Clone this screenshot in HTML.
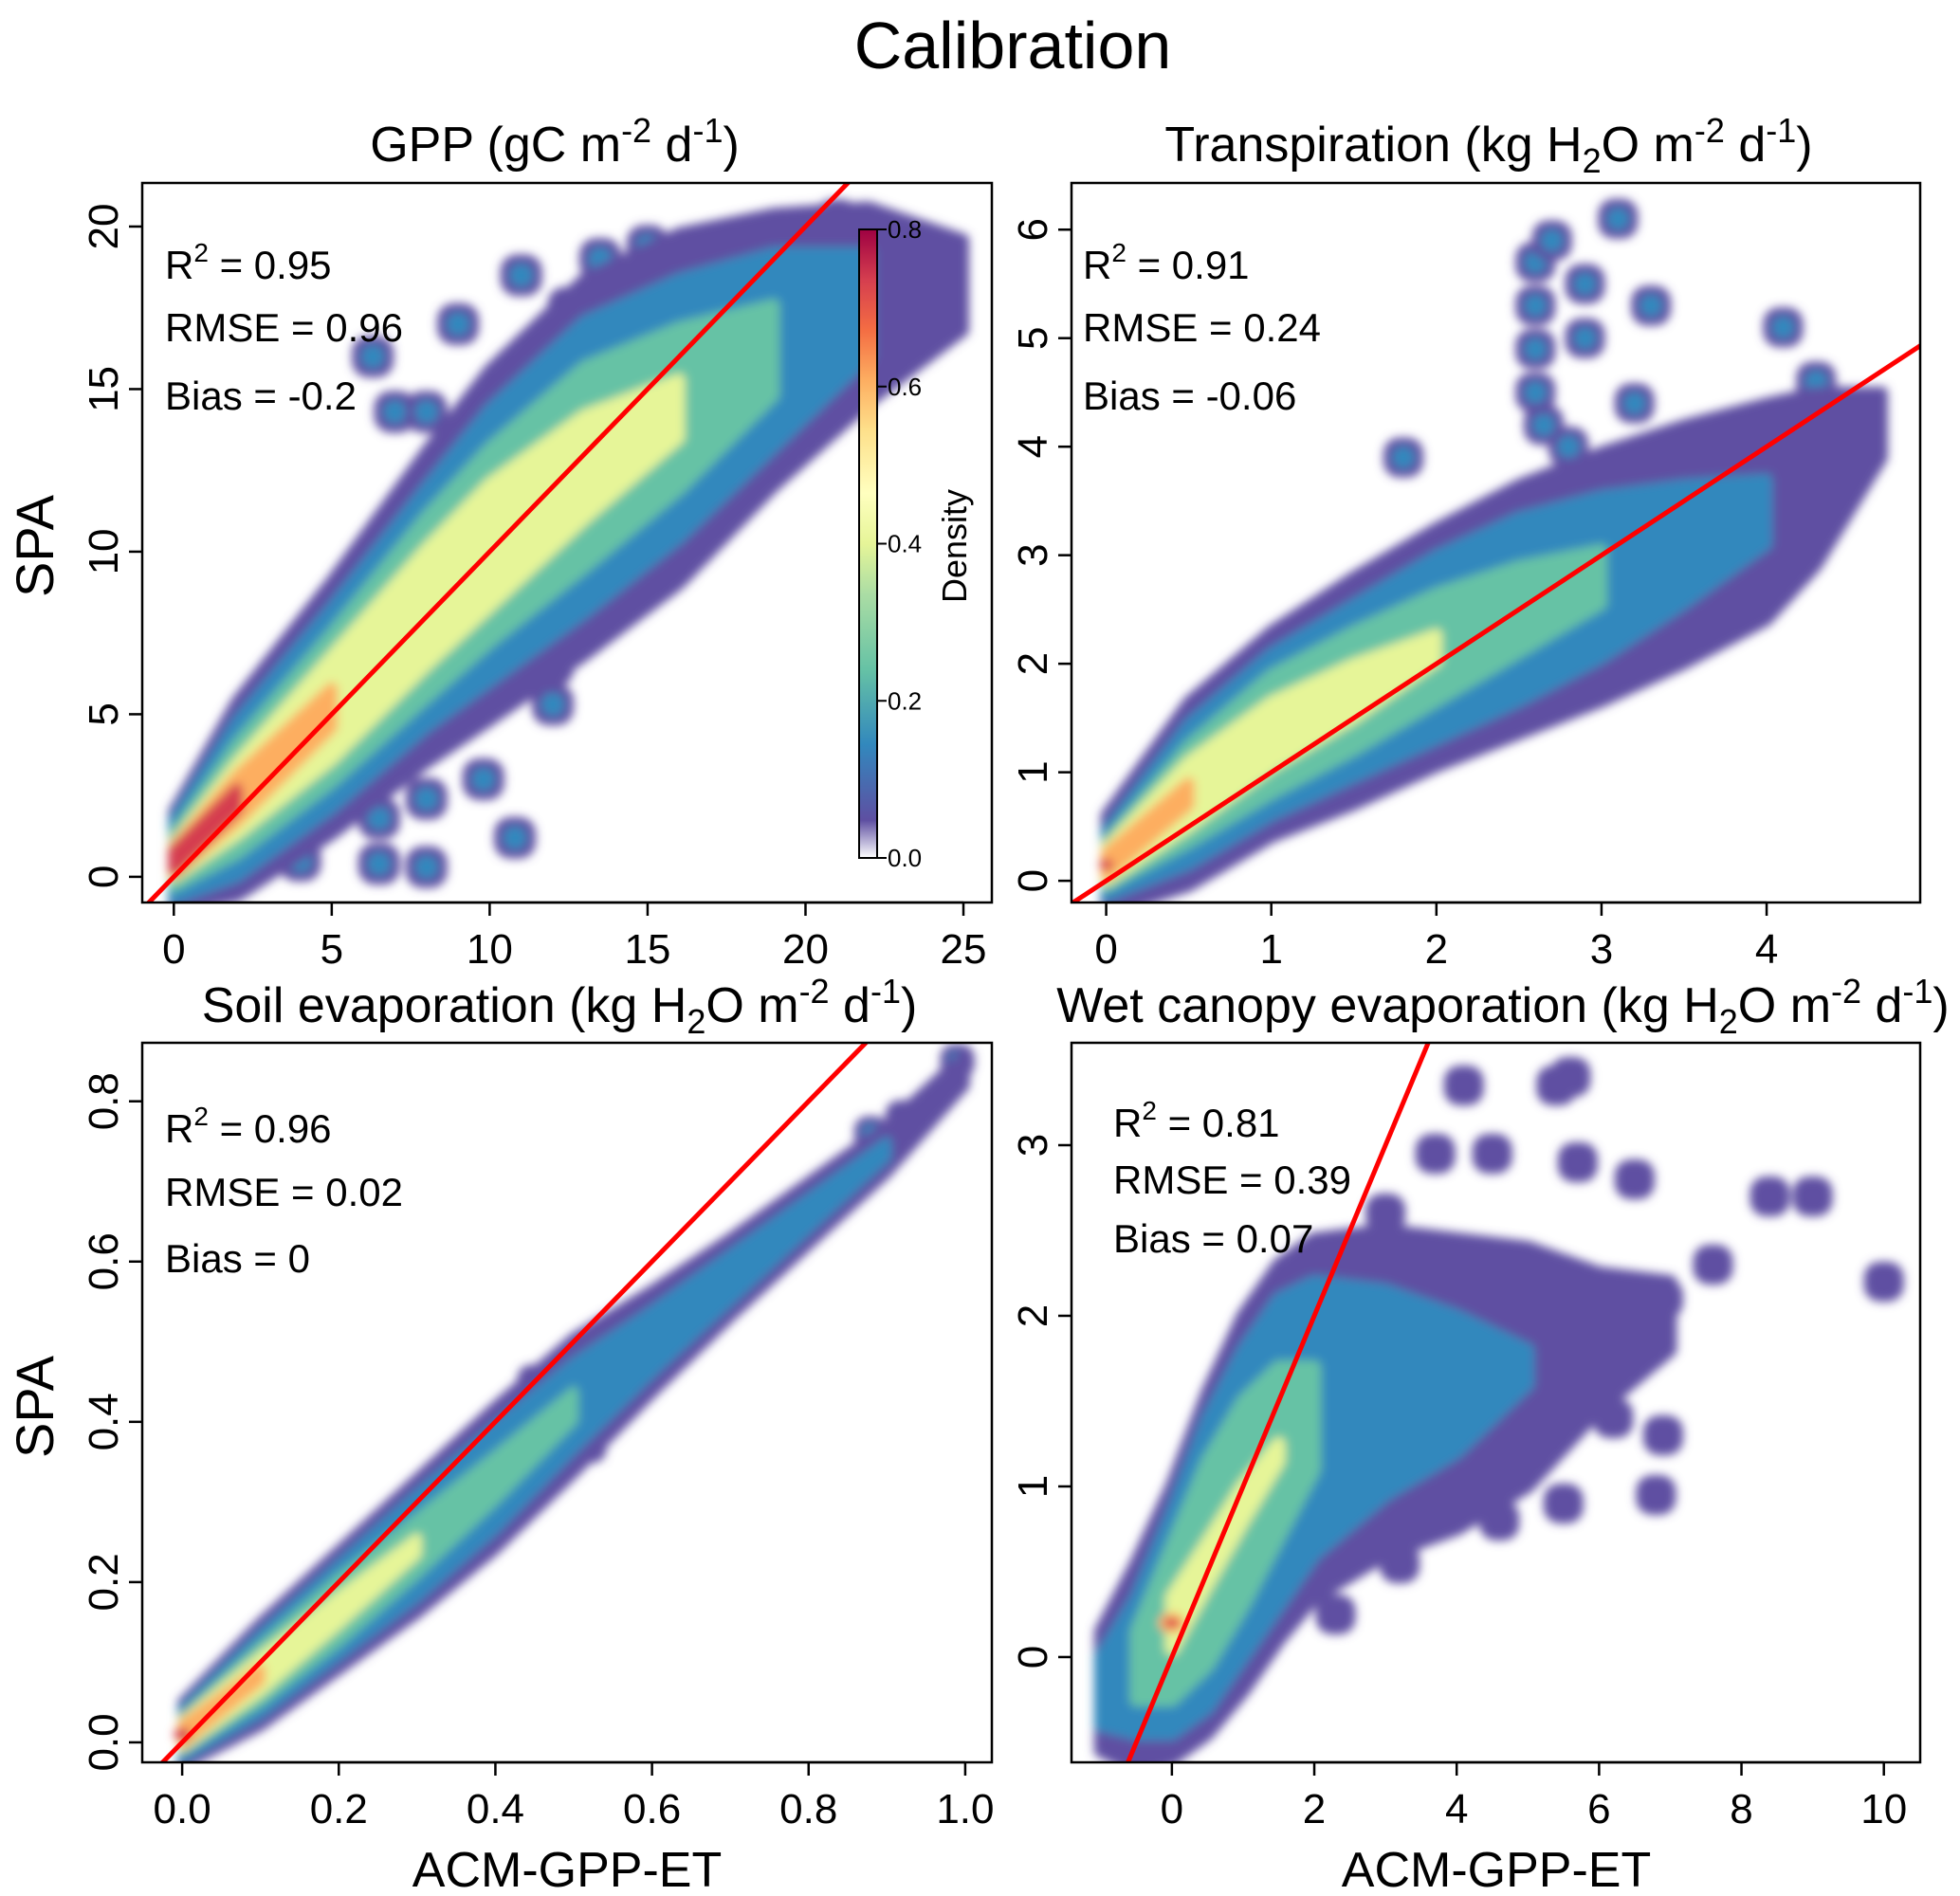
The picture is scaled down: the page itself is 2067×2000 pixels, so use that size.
<!DOCTYPE html>
<html><head><meta charset="utf-8"><title>Calibration</title>
<style>html,body{margin:0;background:#fff;overflow:hidden;width:2067px;height:2000px}svg{display:block;font-family:"Liberation Sans",Arial,sans-serif}</style></head>
<body>
<svg id="fig" width="2067" height="2000" viewBox="0 0 2067 2000" xmlns="http://www.w3.org/2000/svg">
<defs><filter id="blur" x="-5%" y="-5%" width="110%" height="110%"><feGaussianBlur stdDeviation="5"/></filter>
<linearGradient id="cbar" x1="0" y1="1" x2="0" y2="0">
<stop offset="0" stop-color="#ffffff"/><stop offset="0.06" stop-color="#5e4fa2"/><stop offset="0.18" stop-color="#3288bd"/><stop offset="0.3" stop-color="#66c2a5"/><stop offset="0.42" stop-color="#abdda4"/><stop offset="0.5" stop-color="#e6f598"/><stop offset="0.58" stop-color="#ffffbf"/><stop offset="0.68" stop-color="#fee08b"/><stop offset="0.76" stop-color="#fdae61"/><stop offset="0.84" stop-color="#f46d43"/><stop offset="0.92" stop-color="#d53e4f"/><stop offset="1" stop-color="#9e0142"/></linearGradient>
</defs>
<text x="1068" y="72" font-size="70" text-anchor="middle">Calibration</text>
</svg>
<script>
// ---------- data ----------
const levelColors = ["#5e4fa2","#3288bd","#66c2a5","#e6f598","#fdae61","#d53e4f"];

const gppX      = [0,2,5,8,10,13,16,19,22,25];
const gppCenter = [0.5,2.4,5.2,8.3,10.2,12.6,14.4,16.2,17.6,18.2];
const gppPurple = [1.5,3.0,3.9,4.8,5.4,5.8,5.4,4.2,3.0,1.4];
const gppBlue   = [1.2,2.4,3.1,3.7,4.2,4.5,4.0,3.0,1.6,0];
const gppGreen  = [0.8,1.7,2.3,2.8,3.0,3.1,2.5,1.4,0,0];
const gppYellow = [0.5,1.1,1.6,1.8,1.9,1.6,0.9,0,0,0];
const gppOrange = [0.4,0.7,0.6,0,0,0,0,0,0,0];
const gppRed    = [0.3,0.3,0,0,0,0,0,0,0,0];
const gppOutX   = [9.5,4.8,12,12,8,9.8,8,6.5,6.5,4,10.8,7,8,14,13.5,24,21,18.5,15,6.3,11,12.5,9,16.5,23];
const gppOutY   = [10.2,7,6.5,5.3,2.4,3,0.3,0.4,1.8,0.5,1.2,14.3,14.3,8.5,19,18,20.2,19.5,19.4,16,18.5,17.5,17,19.3,16];

const trX      = [0,0.5,1,1.5,2,2.5,3,3.5,4,4.3,4.7];
const trCenter = [0.15,0.8,1.35,1.75,2.15,2.5,2.8,3.1,3.4,3.7,4.2];
const trPurple = [0.45,0.85,0.95,1.05,1.1,1.15,1.15,1.1,1.0,0.8,0.3];
const trBlue   = [0.3,0.65,0.75,0.8,0.85,0.85,0.75,0.55,0.3,0,0];
const trGreen  = [0.2,0.45,0.55,0.55,0.5,0.4,0.25,0,0,0,0];
const trYellow = [0.15,0.3,0.3,0.25,0.12,0,0,0,0,0,0];
const trOrange = [0.1,0.1,0,0,0,0,0,0,0,0,0];
const trRed    = [0.05,0,0,0,0,0,0,0,0,0,0];
const trOutX   = [2.6,2.6,2.6,2.6,2.9,2.9,3.1,2.8,3.3,3.2,4.1,4.3,4.2,4.6,4.4,2.7,1.8,3.5,3.0,2.7,2.65];
const trOutY   = [5.7,5.3,4.9,4.5,5.5,5.0,6.1,4.0,5.3,4.4,5.1,4.6,4.1,4.3,3.8,3.3,3.9,4.0,3.6,5.9,4.2];

const soX      = [0,0.1,0.2,0.3,0.4,0.5,0.6,0.7,0.8,0.9,1.0];
const soCenter = [0.01,0.085,0.165,0.245,0.33,0.42,0.5,0.58,0.66,0.74,0.84];
const soPurple = [0.04,0.065,0.075,0.085,0.09,0.085,0.065,0.05,0.04,0.03,0.02];
const soBlue   = [0.03,0.05,0.058,0.065,0.065,0.055,0.04,0.03,0.02,0.01,0];
const soGreen  = [0.02,0.035,0.04,0.035,0.028,0.018,0,0,0,0,0];
const soYellow = [0.016,0.022,0.018,0.01,0,0,0,0,0,0,0];
const soOrange = [0.012,0.008,0,0,0,0,0,0,0,0,0];
const soRed    = [0.008,0,0,0,0,0,0,0,0,0,0];
const soOutX   = [0.45,0.5,0.52,0.56,0.99,0.92,0.88];
const soOutY   = [0.45,0.4,0.37,0.46,0.85,0.78,0.76];

const wcX      = [-1,-0.5,0,0.5,1,1.5,2,3,4,5,6,7];
const wcCenter = [-0.2,-0.05,0.2,0.55,0.9,1.2,1.4,1.55,1.6,1.7,1.85,2.0];
const wcPurple = [0.35,0.6,0.8,1.0,1.1,1.1,1.05,0.95,0.85,0.7,0.4,0.2];
const wcBlue   = [0.2,0.4,0.65,0.85,0.9,0.9,0.8,0.6,0.4,0.1,0,0];
const wcGreen  = [0,0.2,0.45,0.6,0.6,0.5,0.3,0,0,0,0,0];
const wcYellow = [0,0,0.15,0.12,0.1,0.05,0,0,0,0,0,0];
const wcOrange = [0,0,0.06,0,0,0,0,0,0,0,0,0];
const wcRed    = [0,0,0.03,0,0,0,0,0,0,0,0,0];
const wcOutX   = [4.1,5.4,5.6,8.4,9.0,7.6,10.0,6.9,6.9,6.8,6.2,5.5,3.0,2.3,3.7,4.5,5.7,6.5,6.1,4.6,3.2];
const wcOutY   = [3.35,3.35,3.4,2.7,2.7,2.3,2.2,2.1,1.3,0.95,1.4,0.9,2.6,0.25,2.95,2.95,2.9,2.8,1.8,0.8,0.55];

const gppTicksX = [0,5,10,15,20,25], gppTicksY = [0,5,10,15,20];
const trTicksX = [0,1,2,3,4], trTicksY = [0,1,2,3,4,5,6];
const soTicksX = [0.0,0.2,0.4,0.6,0.8,1.0], soTicksY = [0.0,0.2,0.4,0.6,0.8];
const wcTicksX = [0,2,4,6,8,10], wcTicksY = [0,1,2,3];
const cbarTicks = [0.0,0.2,0.4,0.6,0.8];

// ---------- drawing ----------
const NS = "http://www.w3.org/2000/svg";
const svg = document.getElementById("fig");
function mk(tag, attrs, parent){const e=document.createElementNS(NS,tag);for(const k in attrs)e.setAttribute(k,attrs[k]);(parent||svg).appendChild(e);return e;}

function panel(p){
  const g = mk("g",{});
  
  
  const sx = v => p.x0 + (v - p.xd[0]) / (p.xd[1]-p.xd[0]) * (p.x1 - p.x0);
  const sy = v => p.y1 - (v - p.yd[0]) / (p.yd[1]-p.yd[0]) * (p.y1 - p.y0);
  const cid = "clip-" + p.name;
  const cp = mk("clipPath",{id:cid},g); mk("rect",{x:p.x0,y:p.y0,width:p.x1-p.x0,height:p.y1-p.y0},cp);
  const dg = mk("g",{"clip-path":"url(#"+cid+")"},g);
  const dens = mk("g",{filter:"url(#blur)"},dg);
  
  
  const bs = p.blob;
  for(let i=0;i<p.outX.length;i++){
    const cx=sx(p.outX[i]), cy=sy(p.outY[i]);
    const b = mk("rect",{x:cx-bs/2,y:cy-bs/2,width:bs,height:bs,rx:bs*0.4,fill:levelColors[0]},dens);
    
    
    if(p.inner){ mk("rect",{x:cx-bs*0.28,y:cy-bs*0.28,width:bs*0.56,height:bs*0.56,rx:bs*0.25,fill:levelColors[1]},dens); }
  }
  p.levels.forEach((w,li)=>{
    const up=[],lo=[];
    for(let i=0;i<p.xs.length;i++){
      if(w[i]<=0) continue;
      up.push(sx(p.xs[i])+","+sy(p.center[i]+w[i]));
      lo.unshift(sx(p.xs[i])+","+sy(p.center[i]-w[i]));
    }
    if(up.length<1) return;
    if(up.length===1){
      const i=w.findIndex(v=>v>0);
      const e=mk("ellipse",{cx:sx(p.xs[i]),cy:sy(p.center[i]),rx:Math.abs(sy(0)-sy(w[i]))*1.3,ry:Math.abs(sy(0)-sy(w[i])),fill:levelColors[li]},dens);
      
      
      return;
    }
    const poly = mk("polygon",{points:up.concat(lo).join(" "),fill:levelColors[li],"stroke":levelColors[li],"stroke-width":p.pad,"stroke-linejoin":"round"},dens);
    
    
  });
  const lo=Math.min(p.xd[0],p.yd[0])-1, hi=Math.max(p.xd[1],p.yd[1])+1;
  const ln = mk("line",{x1:sx(lo),y1:sy(lo),x2:sx(hi),y2:sy(hi),stroke:"#ff0000","stroke-width":5},dg);
  
  
  const fr = mk("rect",{x:p.x0,y:p.y0,width:p.x1-p.x0,height:p.y1-p.y0,fill:"none",stroke:"#000","stroke-width":2.5},g);
  
  
  const xa = mk("g",{},g);
  
  
  p.tx.forEach(t=>{
    const X=sx(t);
    mk("line",{x1:X,y1:p.y1,x2:X,y2:p.y1+14,stroke:"#000","stroke-width":2.5},xa);
    const tl=mk("text",{x:X,y:p.y1+64,"font-size":44,"text-anchor":"middle"},xa);
    tl.textContent=p.fmt(t);
    
    
  });
  mk("line",{x1:sx(p.tx[0]),y1:p.y1,x2:sx(p.tx[p.tx.length-1]),y2:p.y1,stroke:"#000","stroke-width":2.5},xa);
  const ya = mk("g",{},g);
  
  
  p.ty.forEach(t=>{
    const Y=sy(t);
    mk("line",{x1:p.x0,y1:Y,x2:p.x0-14,y2:Y,stroke:"#000","stroke-width":2.5},ya);
    const tl=mk("text",{x:p.x0-26,y:Y,"font-size":44,"text-anchor":"middle",transform:`rotate(-90 ${p.x0-26} ${Y})`},ya);
    tl.textContent=p.fmt(t);
    
    
  });
  const st = mk("g",{"font-size":42},g);
  
  
  st.innerHTML = `<text x="${p.sx}" y="${p.sy[0]}">R<tspan dy="-18" font-size="28">2</tspan><tspan dy="18"> = ${p.stats[0]}</tspan></text>
  <text x="${p.sx}" y="${p.sy[1]}">RMSE = ${p.stats[1]}</text><text x="${p.sx}" y="${p.sy[2]}">Bias = ${p.stats[2]}</text>`;
  return {sx,sy};
}
const f0=v=>String(v), f1=v=>v.toFixed(1);
panel({name:"gpp-panel",x0:150,x1:1046,y0:193,y1:952,xd:[-1.0,25.9],yd:[-0.79,21.34],xs:gppX,center:gppCenter,
  levels:[gppPurple,gppBlue,gppGreen,gppYellow,gppOrange,gppRed],outX:gppOutX,outY:gppOutY,blob:44,inner:true,pad:12,
  tx:gppTicksX,ty:gppTicksY,fmt:f0,stats:["0.95","0.96","-0.2"],sx:174,sy:[294,360,432]});
panel({name:"transpiration-panel",x0:1130,x1:2025,y0:193,y1:952,xd:[-0.21,4.93],yd:[-0.2,6.43],xs:trX,center:trCenter,
  levels:[trPurple,trBlue,trGreen,trYellow,trOrange,trRed],outX:trOutX,outY:trOutY,blob:42,inner:true,pad:12,
  tx:trTicksX,ty:trTicksY,fmt:f0,stats:["0.91","0.24","-0.06"],sx:1142,sy:[294,360,432]});
panel({name:"soil-evaporation-panel",x0:150,x1:1046,y0:1100,y1:1859,xd:[-0.051,1.034],yd:[-0.0249,0.873],xs:soX,center:soCenter,
  levels:[soPurple,soBlue,soGreen,soYellow,soOrange,soRed],outX:soOutX,outY:soOutY,blob:36,inner:true,pad:10,
  tx:soTicksX,ty:soTicksY,fmt:f1,stats:["0.96","0.02","0"],sx:174,sy:[1205,1272,1342]});
panel({name:"wet-canopy-panel",x0:1130,x1:2025,y0:1100,y1:1859,xd:[-1.41,10.51],yd:[-0.617,3.6],xs:wcX,center:wcCenter,
  levels:[wcPurple,wcBlue,wcGreen,wcYellow,wcOrange,wcRed],outX:wcOutX,outY:wcOutY,blob:42,inner:false,pad:14,
  tx:wcTicksX,ty:wcTicksY,fmt:f0,stats:["0.81","0.39","0.07"],sx:1174,sy:[1199,1259,1321]});

const cb = mk("g",{});


mk("rect",{x:906,y:242,width:19,height:663,fill:"url(#cbar)",stroke:"#000","stroke-width":2},cb);
cbarTicks.forEach(t=>{
  const Y = 905 - t/0.8*663;
  mk("line",{x1:925,y1:Y,x2:935,y2:Y,stroke:"#000","stroke-width":2},cb);
  const tl=mk("text",{x:936,y:Y+9,"font-size":26},cb);
  tl.textContent=t.toFixed(1);
  
  
});
const dl=mk("text",{x:1019,y:576,"font-size":36,"text-anchor":"middle",transform:"rotate(-90 1019 576)"},cb);
dl.textContent="Density";



const labels = mk("g",{"font-size":52});


labels.innerHTML = `
<text x="585" y="170" text-anchor="middle">GPP (gC m<tspan dy="-20" font-size="36">-2</tspan><tspan dy="20"> d</tspan><tspan dy="-20" font-size="36">-1</tspan><tspan dy="20">)</tspan></text>
<text x="1570" y="170" text-anchor="middle">Transpiration (kg H<tspan dy="12" font-size="36">2</tspan><tspan dy="-12">O m</tspan><tspan dy="-20" font-size="36">-2</tspan><tspan dy="20"> d</tspan><tspan dy="-20" font-size="36">-1</tspan><tspan dy="20">)</tspan></text>
<text x="590" y="1078" text-anchor="middle">Soil evaporation (kg H<tspan dy="12" font-size="36">2</tspan><tspan dy="-12">O m</tspan><tspan dy="-20" font-size="36">-2</tspan><tspan dy="20"> d</tspan><tspan dy="-20" font-size="36">-1</tspan><tspan dy="20">)</tspan></text>
<text x="1585" y="1078" text-anchor="middle">Wet canopy evaporation (kg H<tspan dy="12" font-size="36">2</tspan><tspan dy="-12">O m</tspan><tspan dy="-20" font-size="36">-2</tspan><tspan dy="20"> d</tspan><tspan dy="-20" font-size="36">-1</tspan><tspan dy="20">)</tspan></text>
<text x="598" y="1990" text-anchor="middle">ACM-GPP-ET</text>
<text x="1578" y="1990" text-anchor="middle">ACM-GPP-ET</text>
<text x="56" y="576" text-anchor="middle" font-size="56" transform="rotate(-90 56 576)">SPA</text>
<text x="56" y="1484" text-anchor="middle" font-size="56" transform="rotate(-90 56 1484)">SPA</text>`;
</script>
</body></html>
